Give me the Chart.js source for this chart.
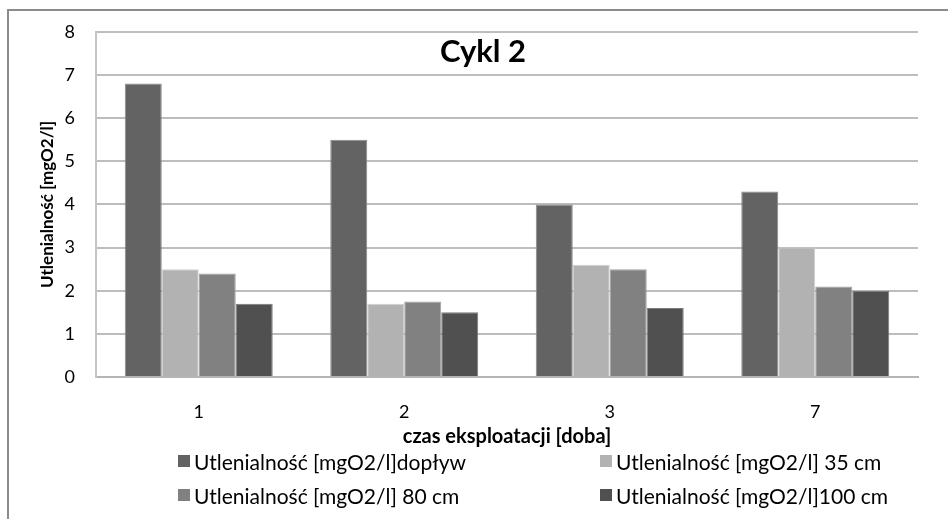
<!DOCTYPE html>
<html>
<head>
<meta charset="utf-8">
<script src="https://cdn.jsdelivr.net/npm/chart.js@4/dist/chart.umd.min.js"></script>
<style>
body{margin:0;background:#fff;overflow:hidden;}
#wrap{position:relative;width:948px;height:519px;overflow:hidden;}
#frame{position:absolute;left:7px;top:9px;width:2000px;height:2000px;border-left:2px solid #8c8c8c;border-top:2px solid #8c8c8c;}
#legend{position:absolute;left:178px;top:444px;display:grid;grid-template-columns:422px 330px;grid-auto-rows:34px;font-family:Lato,sans-serif;font-size:21px;color:#000;}
#legend .item{display:flex;align-items:center;white-space:nowrap;}
#legend .box{width:12px;height:12px;margin-right:4px;flex:none;}
</style>
</head>
<body>
<div id="wrap">
<div id="frame"></div>
<canvas id="chart" width="948" height="519"></canvas>
<div id="legend"></div>
</div>
<script>

// DATA

const days = ["1","2","3","7"];
const doplyw = [6.8, 5.5, 4.0, 4.3];
const cm35 = [2.5, 1.7, 2.6, 3.0];
const cm80 = [2.4, 1.75, 2.5, 2.1];
const cm100 = [1.7, 1.5, 1.6, 2.0];
const seriesNames = [
"Utlenialność [mgO2/l]dopływ",
"Utlenialność [mgO2/l] 35 cm",
"Utlenialność [mgO2/l] 80 cm",
"Utlenialność [mgO2/l]100 cm"
];
const yMin = 0;
const yMax = 8;
const yStep = 1;

const chartTitle = "Cykl 2";
const yTitle = "Utlenialność [mgO2/l]";
const xTitle = "czas eksploatacji [doba]";

const fills = ["#636363","#b2b2b2","#818181","#505050"];
const edges = ["#8a8a8a","#cfcfcf","#a0a0a0","#7a7a7a"];
const values = [doplyw, cm35, cm80, cm100];


// CHART TITLE (inside the plot) + Y TITLE

const overlayText = {
id:"overlayText",
afterDraw(chart){
const ctx = chart.ctx;
const area = chart.chartArea;
ctx.save();
ctx.fillStyle = "#000";
ctx.textAlign = "center";
ctx.textBaseline = "middle";
ctx.font = "bold 31px Lato";
ctx.fillText(chartTitle, 483, 52);
ctx.translate(48, (area.top + area.bottom) / 2);
ctx.rotate(-Math.PI / 2);
ctx.font = "bold 17px Lato";
ctx.fillText(yTitle, 0, 0);
ctx.restore();
}
};


// CHART

const chart = new Chart(document.getElementById("chart"),{
type:"bar",
data:{
labels:days,
datasets:seriesNames.map((name,i)=>({
label:name,
data:values[i],
backgroundColor:fills[i],
borderColor:edges[i],
borderWidth:1,
categoryPercentage:0.72,
barPercentage:1.0
}))
},
options:{
responsive:false,
animation:false,
layout:{padding:{top:29,right:30,left:0,bottom:0}},
plugins:{
legend:{display:false},
title:{display:false},
tooltip:{enabled:false}
},
scales:{
x:{
grid:{display:false},
border:{display:true,color:"#b5b5b5",width:2},
ticks:{color:"#000",font:{family:"Lato",size:18},padding:16},
title:{display:true,text:xTitle,color:"#000",font:{family:"Lato",size:20,weight:"bold"},padding:{top:0,bottom:70}},
afterFit(scale){scale.height = 142;}
},
y:{
min:yMin,
max:yMax,
ticks:{stepSize:yStep,color:"#000",font:{family:"Lato",size:18},padding:21},
grid:{color:"#bdbdbd",lineWidth:2,drawTicks:false},
border:{display:true,color:"#c4c4c4",width:2},
afterFit(scale){scale.width = 96;}
}
}
},
plugins:[overlayText]
});


// LEGEND (2 x 2 grid)

const legend = document.getElementById("legend");
chart.data.datasets.forEach(ds=>{
const item = document.createElement("div");
item.className = "item";
const box = document.createElement("span");
box.className = "box";
box.style.background = ds.backgroundColor;
const txt = document.createElement("span");
txt.innerText = ds.label;
item.appendChild(box);
item.appendChild(txt);
legend.appendChild(item);
});

</script>
</body>
</html>
